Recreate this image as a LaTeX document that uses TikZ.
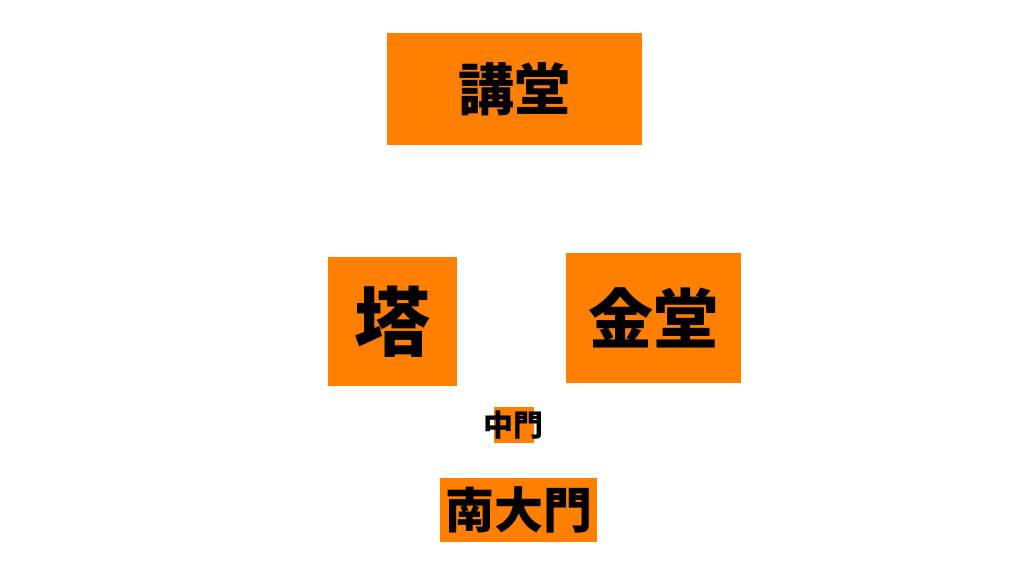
\documentclass[tikz,border=0pt]{standalone}
\usepackage{fontspec}
\newfontfamily\jpfont{Noto Sans CJK JP}
\definecolor{hallorange}{RGB}{255,127,0}
\tikzset{hall/.style={fill=hallorange, inner sep=0pt},
  hallname/.style={font=\jpfont\bfseries\fontsize{#1}{#1}\selectfont, inner sep=0pt}}

\begin{document}
\begin{tikzpicture}[x=1pt, y=-1pt]
      \useasboundingbox (0, 0) rectangle (1024, 576);

      \node [hall, minimum width=255pt, minimum height=112pt] (kodo) at (514.5, 89) {};
      \node [hallname=56] (kodotext) at (kodo) {講堂};

      \node [hall, minimum width=129pt, minimum height=129pt] (to) at (392.5, 321.5) {};
      \node [hallname=76] (totext) at (to) {塔};

      \node [hall, minimum width=175pt, minimum height=130pt] (kondo) at (653.5, 318) {};
      \node [hallname=65] (kondotext) at (kondo) {金堂};

      \node [hall, minimum width=40pt, minimum height=36pt] (chumon) at (514, 425) {};
      \node [hallname=30] (chumontext) at (513, 425) {中門};

      \node [hall, minimum width=157pt, minimum height=64pt] (nandaimon) at (518.5, 510) {};
      \node [hallname=49] (nandaimontext) at (nandaimon) {南大門};

    \end{tikzpicture}
\end{document}
